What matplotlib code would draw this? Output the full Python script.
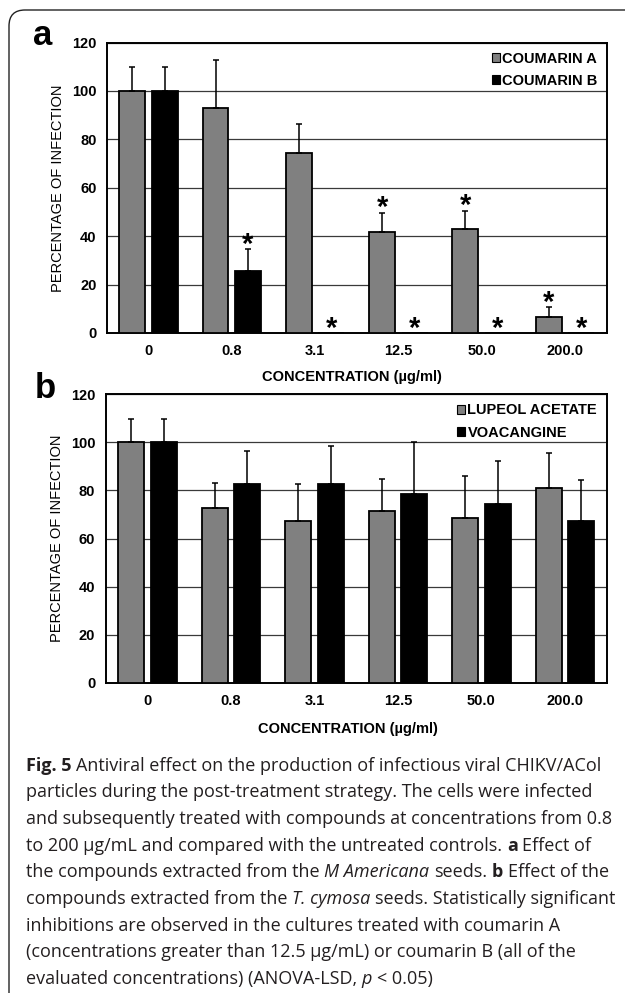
import numpy as np
import matplotlib
matplotlib.use("Agg")
from matplotlib import pyplot as plt
from matplotlib.patches import Patch, FancyBboxPatch
from matplotlib.transforms import IdentityTransform

# concentrations (ug/ml)
conc_labels = ['0', '0.8', '3.1', '12.5', '50.0', '200.0']

# panel a
coumarin_a = [100, 92.8, 74.3, 41.7, 42.9, 6.8]
coumarin_a_err = [10, 20, 12, 8, 7.7, 3.8]
coumarin_b = [100, 25.8, 0, 0, 0, 0]
coumarin_b_err = [10, 9, 0, 0, 0, 0]
sig_a = [False, False, False, True, True, True]
sig_b = [False, True, True, True, True, True]

# panel b
lupeol = [100, 72.5, 67.3, 71.6, 68.5, 81.1]
lupeol_err = [9.5, 10.7, 15.2, 13.0, 17.5, 14.4]
voacangine = [100, 82.8, 82.8, 78.6, 74.3, 67.3]
voacangine_err = [9.5, 13.4, 15.5, 21.6, 18.0, 16.9]
sig_l = [False] * 6
sig_v = [False] * 6

caption = [
    [("Fig. 5", "b"), (" Antiviral effect on the production of infectious viral CHIKV/ACol", "r")],
    [("particles during the post-treatment strategy. The cells were infected", "r")],
    [("and subsequently treated with compounds at concentrations from 0.8", "r")],
    [("to 200 µg/mL and compared with the untreated controls. ", "r"), ("a", "b"), (" Effect of", "r")],
    [("the compounds extracted from the ", "r"), ("M Americana", "i"), (" seeds. ", "r"), ("b", "b"), (" Effect of the", "r")],
    [("compounds extracted from the ", "r"), ("T. cymosa", "i"), (" seeds. Statistically significant", "r")],
    [("inhibitions are observed in the cultures treated with coumarin A", "r")],
    [("(concentrations greater than 12.5 µg/mL) or coumarin B (all of the", "r")],
    [("evaluated concentrations) (ANOVA-LSD, ", "r"), ("p", "i"), (" < 0.05)", "r")],
]

plt.rcParams['font.family'] = ['Liberation Sans', 'DejaVu Sans']
FS = 10.5
W, H = 625, 993
fig = plt.figure(figsize=(W / 100, H / 100), dpi=100)

# rounded frame, cut by the right and bottom edges
frame = FancyBboxPatch((9, -60), 800, H - 10 + 60, boxstyle="round,pad=0,rounding_size=16",
                       transform=IdentityTransform(), fill=False, edgecolor='#222222', lw=1.0)
fig.add_artist(frame)


def panel(ax, s1, e1, s2, e2, sig1, sig2, names, xlab_x, xlab_y):
    x = np.arange(len(conc_labels))
    w = 0.31
    off = 0.195
    ax.bar(x - off, s1, w, color='#808080', edgecolor='black', lw=1.3, zorder=3)
    ax.bar(x + off, s2, w, color='black', edgecolor='black', lw=1.3, zorder=3)
    for xs, s, e, sig in ((x - off, s1, e1, sig1), (x + off, s2, e2, sig2)):
        for xi, si, ei, g in zip(xs, s, e, sig):
            if ei > 0:
                ax.errorbar(xi, si, yerr=[[0], [ei]], fmt='none', ecolor='black',
                            elinewidth=1.1, capsize=2.2, capthick=1.1, zorder=4)
            if g:
                ax.annotate('*', (xi, si + ei), xytext=(0, 9.5 - 0.58 * 21), textcoords='offset points',
                            ha='center', va='baseline', fontsize=21, fontweight='bold', zorder=5)
    ax.set_xlim(-0.5, len(conc_labels) - 0.5)
    ax.set_ylim(0, 120)
    ax.set_yticks(range(0, 121, 20))
    ax.set_xticks(x)
    ax.set_xticklabels(conc_labels)
    ax.tick_params(length=0, labelsize=FS)
    ax.tick_params(axis='y', pad=7.5)
    ax.tick_params(axis='x', pad=8)
    for lab in ax.get_xticklabels() + ax.get_yticklabels():
        lab.set_fontweight('bold')
    ax.set_axisbelow(True)
    ax.yaxis.grid(True, color='#3a3a3a', lw=0.9)
    for sp in ax.spines.values():
        sp.set_linewidth(1.4)
    ax.set_ylabel('PERCENTAGE OF INFECTION', fontsize=FS)
    ax.yaxis.label.set_va('center')
    ax.yaxis.set_label_coords(-0.0976, 0.5)
    ax.set_xlabel('CONCENTRATION (µg/ml)', fontsize=FS, fontweight='bold')
    ax.xaxis.label.set_va('center')
    ax.xaxis.set_label_coords(xlab_x, xlab_y)
    handles = [Patch(facecolor='#808080', edgecolor='black', lw=0.8),
               Patch(facecolor='black', edgecolor='black', lw=0.8)]
    ax.legend(handles, names, loc='upper right', bbox_to_anchor=(1.0, 1.0), frameon=False,
              handlelength=0.55, handleheight=0.55, handletextpad=0.15, labelspacing=0.55,
              borderaxespad=0.25, prop={'size': FS, 'weight': 'bold'})


ax_a = fig.add_axes([106.8 / W, 1 - 333 / H, 499.8 / W, 290.5 / H])
panel(ax_a, coumarin_a, coumarin_a_err, coumarin_b, coumarin_b_err, sig_a, sig_b,
      ['COUMARIN A', 'COUMARIN B'], 0.4896, -0.1515)
ax_b = fig.add_axes([105.6 / W, 1 - 683 / H, 501 / W, 289 / H])
panel(ax_b, lupeol, lupeol_err, voacangine, voacangine_err, sig_l, sig_v,
      ['LUPEOL ACETATE', 'VOACANGINE'], 0.483, -0.159)

fig.text(33 / W, 1 - 45 / H, 'a', fontsize=25, fontweight='bold', ha='left', va='baseline')
fig.text(35 / W, 1 - 398 / H, 'b', fontsize=25, fontweight='bold', ha='left', va='baseline')

# caption drawn run by run
renderer = fig.canvas.get_renderer()
CAP_FS = 13.0
cap_styles = {'r': dict(family='Open Sans'), 'b': dict(family='Open Sans', fontweight='bold'),
              'i': dict(family='Open Sans', fontstyle='italic')}


def text_width(s, st):
    t = fig.text(0, 0, s, fontsize=CAP_FS, transform=IdentityTransform(), **cap_styles[st])
    w = t.get_window_extent(renderer).width
    t.remove()
    return w


space_w = {k: text_width('x x', k) - text_width('xx', k) for k in cap_styles}
base = 770.7
for i, line in enumerate(caption):
    xpos = 26.0
    ypix = H - (base + i * 26.65)
    for s, st in line:
        lead = len(s) - len(s.lstrip(' '))
        trail = len(s) - len(s.rstrip(' '))
        xpos += lead * space_w[st]
        core = s.strip(' ')
        t = fig.text(xpos, ypix, core, fontsize=CAP_FS, color='#231f20', ha='left', va='baseline',
                     transform=IdentityTransform(), **cap_styles[st])
        xpos += t.get_window_extent(renderer).width + trail * space_w[st]

fig.savefig('out.png', dpi=100)
